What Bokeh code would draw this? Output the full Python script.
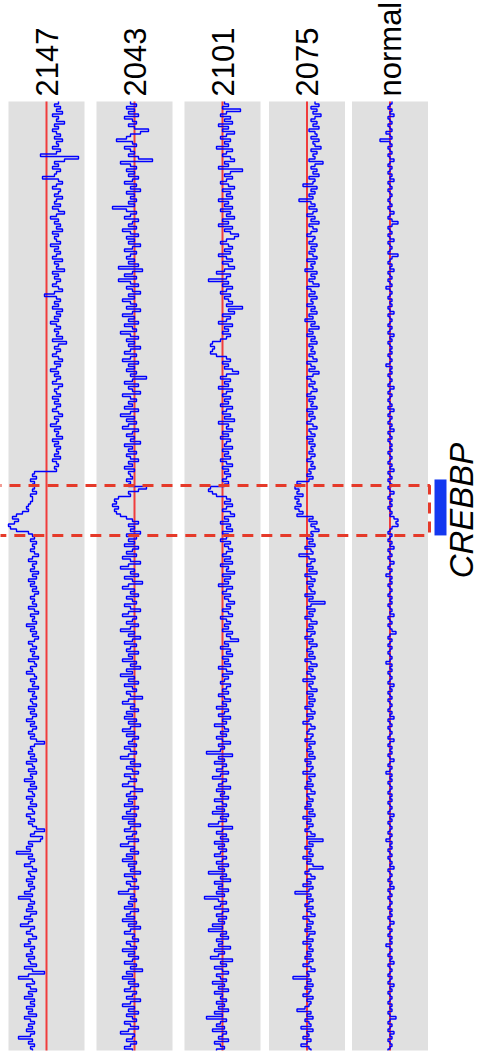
import numpy as np
from bokeh.plotting import figure
from bokeh.models import Range1d
from bokeh.core.properties import value
from bokeh.embed import file_html
from bokeh.resources import INLINE

# ---------------- data ----------------
samples = ["2147", "2043", "2101", "2075", "normal"]

# log2 ratios per probe (top -> bottom)
s2147 = [
    0.6, 0.4, 0.7, 0.5, 0.8, 0.3, 0.6, 0.5, 0.9, 0.4, 0.6, 0.3, 0.5, 0.7, 0.4, 0.8, 0.5, 0.6, 0.3, 0.7,
    0.5, -0.3, 1.6, 0.9, 0.4, 0.6, 0.3, 0.7, 0.5, 0.4, -0.2, 0.6, 0.8, 0.5, 0.3, 0.7, 0.6, 0.4, 0.8, 0.5,
    0.4, 0.7, 0.3, 0.6, 0.9, 0.5, 0.2, 0.6, 0.4, 0.7, 0.5, 0.8, 0.3, 0.6, 0.4, 0.5, 0.7, 0.2, 0.6, 0.4,
    0.7, 0.5, 0.3, 0.8, 0.4, 0.6, 0.5, 0.9, 0.3, 0.6, 0.4, 0.7, 0.5, 0.3, 0.6, 0.8, 0.4, -0.1, 0.5, 0.7,
    0.4, 0.6, 0.3, 0.8, 0.5, 0.7, 0.4, 0.6, 0.2, 0.5, 0.7, 0.4, 0.6, 0.5, 0.8, 0.3, 1.0, 0.6, 0.4, 0.7,
    0.5, 0.3, 0.6, 0.8, 0.4, 0.7, 0.5, 0.2, 0.6, 0.4, 0.7, 0.5, 0.3, 0.8, 0.6, 0.4, 0.5, 0.7, 0.3, 0.6,
    0.4, 0.7, 0.5, 0.3, 0.6, 0.8, 0.4, 0.6, 0.5, 0.2, 0.7, 0.4, 0.6, 0.5, 0.8, 0.3, 0.6, 0.4, 0.7, 0.5,
    0.6, 0.4, 0.7, 0.3, 0.5, 0.6, 0.4, 0.5, -0.6, -0.7, -0.5, -0.8, -0.6, -0.7, -0.6, -0.7, -0.5, -0.8, -0.7, -0.7,
    -0.8, -0.9, -1.0, -0.9, -1.2, -1.5, -1.7, -1.4, -1.6, -1.9, -1.8, -1.5, -0.9, -0.7, -0.6, -0.8, -0.5, -0.7, -0.6, -0.8,
    -0.6, -0.4, -0.7, -0.9, -0.5, -0.7, -0.6, -0.8, -0.4, -0.7, -0.5, -0.9, -0.6, -0.8, -0.5, -0.7, -0.4, -0.6, -0.8, -0.6,
    -0.7, -0.5, -0.9, -0.6, -0.4, -0.8, -0.6, -0.7, -0.5, -1.0, -0.6, -0.8, -0.5, -0.7, -0.4, -0.6, -0.9, -0.7, -0.5, -0.8,
    -0.6, -0.7, -0.4, -0.9, -0.6, -0.5, -0.8, -0.7, -1.0, -0.6, -0.5, -0.8, -0.6, -0.7, -0.4, -0.9, -0.6, -0.7, -0.5, -0.8,
    -0.7, -0.5, -0.9, -0.6, -0.8, -0.5, -0.7, -1.0, -0.6, -0.8, -0.5, -0.7, -0.9, -0.6, -0.8, -0.5, -0.1, -0.6, -0.8, -0.7,
    -0.9, -0.6, -0.8, -0.5, -1.0, -0.7, -0.6, -0.9, -0.5, -0.8, -0.7, -1.1, -0.6, -0.8, -0.5, -0.9, -0.7, -0.6, -1.0, -0.7,
    -0.8, -0.5, -0.9, -0.7, -0.6, -1.0, -0.8, -0.6, -0.9, -0.7, -0.5, -0.1, -0.6, -0.8, -0.2, -0.3, -0.9, -0.7, -1.0, -0.8,
    -1.5, -0.7, -0.9, -0.6, -0.8, -1.1, -0.7, -0.5, -0.9, -0.8, -0.6, -1.0, -0.7, -0.9, -0.6, -0.8, -1.1, -0.7, -1.4, -0.8,
    -0.6, -0.9, -0.7, -1.0, -0.5, -0.8, -1.1, -0.7, -0.9, -1.3, -0.6, -0.8, -1.0, -0.7, -0.5, -0.9, -0.8, -1.1, -0.6, -0.8,
    -0.7, -1.0, -0.6, -0.9, -0.8, -0.5, -1.1, -0.7, -0.1, -0.9, -1.4, -0.7, -0.6, -1.0, -0.8, -0.5, -0.9, -0.7, -1.1, -0.6,
    -0.8, -0.6, -1.0, -0.7, -0.9, -0.5, -1.1, -0.8, -0.6, -0.9, -0.7, -1.0, -0.6, -0.8, -1.4, -0.7, -0.9, -0.6, -0.8, -0.7,
]

s2043 = [
    -0.2, 0.1, -0.4, 0.0, -0.3, 0.2, -0.5, -0.1, 0.1, -0.3, 0.0, 0.7, 0.3, -0.2, -0.4, -0.9, -0.1, 0.1, -0.5, -0.2,
    0.0, -0.3, 0.2, 0.9, -0.7, -0.2, 0.1, -0.4, 0.0, -0.3, 0.2, -0.1, -0.5, 0.1, -0.2, 0.3, -0.4, 0.0, -0.2, 0.1,
    -0.3, 0.0, -1.1, -0.4, 0.1, -0.2, -0.5, 0.2, -0.1, -0.3, 0.1, -0.6, -0.2, 0.2, -0.4, 0.0, -0.3, 0.3, -0.1, -0.5,
    0.1, -0.2, -0.4, 0.0, -0.3, 0.2, -0.8, 0.4, -0.1, -0.5, 0.1, -0.8, -0.2, 0.2, -0.4, -0.1, 0.3, -0.3, 0.0, -0.6,
    -0.2, 0.1, -0.4, 0.3, -0.1, -0.6, 0.0, -0.3, 0.2, -0.5, -0.1, 0.1, -0.7, -0.2, 0.2, -0.4, 0.0, -0.3, 0.3, -0.2,
    -0.5, 0.1, -0.2, -0.6, 0.2, -0.3, 0.0, -0.4, 0.1, -0.2, 0.6, -0.1, -0.5, 0.2, -0.3, -0.1, 0.3, -0.6, -0.2, 0.1,
    -0.3, -0.1, -0.5, 0.2, -0.2, -0.7, 0.0, -0.4, 0.1, -0.3, -0.6, 0.2, -0.1, -0.4, 0.0, -0.2, 0.3, -0.5, -0.1, -0.3,
    0.1, -0.4, -0.2, 0.2, -0.3, -0.1, -0.5, 0.0, -0.3, -0.2, -0.1, -0.4, -0.2, -0.3, 0.6, 0.2, -0.3, -0.2, -0.8, -1.0,
    -0.9, -1.1, -0.8, -1.0, -0.9, -0.7, -0.4, -0.1, 0.2, -0.3, 0.0, -0.2, 0.3, -0.4, 0.1, -0.3, 0.0, -0.5, 0.2, -0.1,
    -0.4, 0.1, -0.6, -0.2, 0.3, -0.3, -0.7, 0.0, -0.2, 0.2, -0.5, -0.1, 0.4, -0.3, -0.6, 0.0, -0.2, 0.2, -0.4, -0.1,
    0.1, -0.5, -0.2, 0.3, -0.3, -0.6, 0.1, -0.1, -0.4, 0.2, -0.2, -0.7, 0.0, -0.3, 0.3, -0.1, -0.5, 0.1, -0.2, -0.4,
    0.2, -0.3, -0.1, -0.6, 0.1, -0.2, 0.3, -0.4, -0.1, -0.7, 0.0, -0.3, 0.2, -0.5, -0.1, 0.1, -0.4, -0.2, 0.4, -0.3,
    -0.6, 0.0, -0.2, 0.2, -0.4, -0.1, -0.5, 0.1, -0.3, 0.3, -0.2, -0.6, 0.0, -0.4, 0.2, -0.1, -0.3, 0.1, -0.5, -0.2,
    0.1, -0.3, -0.7, 0.0, -0.2, 0.3, -0.4, -0.1, 0.2, -0.5, -0.2, 0.1, -0.3, -0.6, 0.0, 0.4, -0.2, -0.4, 0.1, -0.3,
    -0.1, -0.5, 0.2, -0.2, -0.4, 0.1, -0.6, 0.0, -0.3, 0.3, -0.2, -0.5, 0.1, -0.1, -0.4, 0.2, -0.3, -0.7, 0.0, -0.2,
    0.2, -0.4, -0.1, -0.6, 0.1, -0.3, 0.0, -0.2, 0.3, -0.5, -0.1, 0.1, -0.4, -0.2, 0.2, -0.3, -0.8, 0.0, -0.2, 0.1,
    -0.3, -0.1, -0.5, 0.2, -0.2, -0.4, 0.0, -0.6, 0.1, -0.3, 0.3, -0.2, -0.5, 0.0, -0.1, 0.2, -0.4, -0.2, 0.1, -0.6,
    0.0, -0.3, 0.2, -0.1, -0.5, 0.1, -0.2, 0.4, -0.4, -0.1, -0.6, 0.0, -0.3, 0.2, -0.2, -0.5, 0.1, -0.1, -0.4, 0.3,
    -0.2, -0.6, 0.0, -0.3, 0.2, -0.4, -0.1, 0.1, -0.5, -0.2, 0.2, -0.3, -0.7, 0.0, -0.1, -0.4, 0.1, -0.2, -0.5, -0.1,
]

s2101 = [
    0.1, 0.3, 0.0, 0.9, 0.2, -0.1, 0.4, 0.1, 0.5, -0.2, 0.3, 0.0, 0.6, 0.2, -0.1, 0.4, 0.1, 0.3, -0.3, 0.5,
    0.2, 0.0, 0.4, 0.6, 0.1, 0.3, -0.2, 1.0, 0.4, 0.1, 0.5, 0.2, -0.1, 0.3, 0.6, 0.0, 0.4, 0.2, 0.5, -0.2,
    0.3, 0.1, 0.5, -0.1, 0.4, 0.2, 0.6, 0.0, 0.3, -0.2, 0.5, 0.1, 0.4, 0.8, 0.6, 0.2, -0.1, 0.3, 0.5, 0.1,
    0.4, -0.2, 0.2, 0.5, 0.0, 0.3, 0.6, 0.1, -0.3, 0.4, 0.2, -0.7, 0.3, 0.0, 0.5, 0.2, -0.1, 0.4, 0.1, 0.3,
    0.5, 0.2, 1.0, 0.3, 0.6, 0.0, 0.4, 0.2, -0.2, 0.5, 0.1, 0.3, 0.0, 0.4, 0.2, -0.1, -0.5, -0.6, -0.4, -0.5,
    -0.6, -0.3, 0.2, 0.4, 0.0, 0.3, 0.1, 0.5, 0.8, 0.2, -0.1, 0.4, 0.1, 0.3, -0.2, 0.5, 0.2, 0.0, 0.4, 0.1,
    0.3, -0.1, 0.5, 0.2, 0.0, 0.4, 0.1, 0.6, -0.2, 0.3, 0.2, 0.5, 0.0, 0.3, -0.1, 0.4, 0.2, 0.1, 0.5, 0.0,
    0.3, 0.1, 0.4, -0.1, 0.2, 0.5, 0.0, 0.3, 0.1, 0.4, 0.2, 0.0, 0.3, 0.1, -0.6, -0.7, -0.5, -0.3, 0.2, 0.4,
    0.1, 0.5, 0.2, 0.0, 0.4, 0.6, 0.1, 0.3, -0.1, 0.4, 0.2, 0.5, 0.0, 0.3, 0.2, -0.1, 0.4, 0.1, 0.3, 0.5,
    0.2, 0.0, 0.4, 0.1, 0.5, -0.1, 0.3, 0.2, 0.6, 0.0, 0.4, 0.1, 0.3, -0.2, 0.5, 0.2, 0.0, 0.4, 0.1, 0.3,
    0.6, 0.2, 0.4, 0.0, 0.3, 0.5, -0.1, 0.2, 0.4, 0.1, 0.3, 0.0, 0.5, 0.2, 0.4, 0.8, 0.1, 0.3, -0.1, 0.4,
    0.2, 0.5, 0.0, 0.3, 0.1, 0.4, -0.2, 0.2, 0.5, 0.0, 0.3, 0.1, -0.1, 0.4, 0.2, 0.0, 0.3, -0.2, 0.1, 0.4,
    0.0, 0.2, -0.3, 0.3, 0.1, -0.2, 0.4, 0.0, 0.2, -0.4, 0.1, 0.3, -0.1, 0.2, -0.3, 0.0, 0.4, -0.2, 0.1, -0.1,
    -0.8, 0.5, -0.2, 0.1, -0.4, 0.2, 0.0, -0.3, 0.3, -0.1, -0.5, 0.2, 0.0, -0.2, 0.4, -0.3, 0.1, -0.1, 0.3, -0.4,
    0.0, 0.2, -0.3, 0.1, -0.5, 0.3, -0.1, 0.2, -0.2, -0.7, 0.5, 0.0, -0.3, 0.2, -0.1, 0.3, -0.4, 0.1, -0.2, 0.2,
    -0.1, -0.4, 0.2, 0.0, -0.3, 0.3, -0.2, 0.1, -0.7, 0.2, -0.1, 0.4, -0.4, 0.0, -0.2, 0.3, -0.3, 0.1, -0.9, -0.2,
    0.2, -0.1, -0.4, 0.3, 0.0, -0.3, 0.2, -0.2, 0.1, -0.5, 0.0, -0.7, 0.2, -0.1, 0.3, -0.3, 0.0, -0.2, 0.4, -0.4,
    0.1, -0.2, -0.6, 0.5, -0.1, 0.2, -0.4, 0.0, 0.3, -0.3, -0.1, 0.2, -0.5, 0.1, -0.2, 0.3, -0.4, 0.0, -0.1, 0.2,
    -0.3, 0.1, -0.2, 0.3, -0.4, 0.0, -0.8, 0.2, -0.1, -0.3, 0.1, -0.5, 0.2, 0.0, -0.2, 0.3, -0.4, -0.1, 0.1, -0.3,
]

s2075 = [
    0.4, 0.6, 0.2, 0.5, 0.3, 0.7, 0.4, 0.2, 0.5, 0.3, 0.6, 0.1, 0.4, 0.5, 0.2, 0.6, 0.3, 0.4, 0.7, 0.2,
    0.5, 0.3, 0.4, 0.1, 0.8, 0.4, 0.2, 0.5, 0.3, 0.6, 0.1, 0.4, 0.3, -0.2, 0.5, 0.2, 0.4, 0.1, 0.3, -0.4,
    0.2, 0.4, 0.1, 0.5, 0.3, 0.0, 0.4, 0.2, 0.6, 0.1, 0.3, 0.5, 0.2, 0.0, 0.4, 0.3, 0.1, 0.5, 0.2, 0.4,
    0.1, 0.3, 0.5, 0.0, 0.4, 0.2, 0.3, -0.1, 0.5, 0.2, 0.4, 0.1, 0.3, 0.6, 0.0, 0.2, 0.4, 0.1, 0.5, 0.2,
    0.3, 0.0, 0.4, 0.2, 0.5, 0.1, 0.3, -0.1, 0.4, 0.2, 0.6, 0.1, 0.3, 0.0, 0.4, 0.2, 0.5, 0.1, 0.3, 0.2,
    0.4, 0.1, 0.3, 0.5, 0.0, 0.2, 0.4, 0.1, 0.6, 0.3, 0.0, 0.2, 0.4, 0.1, 0.3, 0.5, 0.2, 0.0, 0.4, 0.1,
    0.3, 0.2, 0.5, 0.0, 0.3, 0.1, 0.4, 0.2, 0.0, 0.3, 0.5, 0.1, 0.2, 0.4, 0.0, 0.3, 0.1, 0.4, 0.2, 0.3,
    0.1, 0.4, 0.2, 0.0, 0.3, 0.2, 0.4, 0.1, 0.2, 0.0, 0.3, 0.1, -0.5, -0.3, -0.6, -0.4, -0.5, -0.2, -0.6, -0.4,
    -0.5, -0.3, -0.6, -0.4, -0.2, -0.5, 0.3, 0.1, 0.5, 0.2, 0.4, 0.6, 0.2, 0.3, 0.0, 0.3, 0.1, 0.4, -0.1, 0.2,
    0.3, -0.4, 0.1, 0.4, 0.2, 0.0, 0.3, 0.1, 0.5, -0.1, 0.2, 0.4, 0.0, 0.3, 0.1, 0.2, 0.4, -0.1, 0.3, 0.1,
    0.9, 0.2, 0.0, 0.4, 0.1, 0.3, -0.1, 0.2, 0.5, 0.1, 0.3, 0.0, 0.4, 0.2, -0.1, 0.3, 0.1, 0.5, 0.2, 0.0,
    0.3, 0.1, 0.4, -0.1, 0.2, 0.5, 0.1, 0.3, 0.0, 0.2, 0.4, -0.2, 0.3, 0.1, 0.2, 0.5, 0.0, 0.3, 0.1, 0.4,
    0.1, 0.3, -0.1, 0.2, 0.4, 0.0, 0.3, 0.1, -0.2, 0.2, 0.4, 0.1, 0.0, 0.3, 0.2, -0.1, 0.4, 0.1, 0.2, 0.0,
    0.3, 0.1, 0.4, -0.1, 0.2, 0.0, 0.3, 0.2, -0.2, 0.4, 0.1, 0.2, 0.0, 0.3, -0.1, 0.2, 0.4, 0.0, 0.1, 0.3,
    0.0, 0.2, -0.1, 0.3, 0.1, 0.4, -0.2, 0.2, 0.0, 0.3, 0.1, -0.1, 0.2, 0.4, 0.0, 0.8, 0.1, 0.3, -0.1, 0.2,
    0.1, 0.3, -0.2, 0.2, 0.0, 0.3, 0.8, 0.1, -0.1, 0.2, 0.4, 0.0, 0.2, -0.2, 0.3, 0.1, -0.6, 0.2, 0.0, 0.3,
    0.1, -0.1, 0.3, 0.0, 0.2, 0.4, -0.2, 0.1, 0.3, 0.0, 0.2, -0.1, 0.4, 0.1, 0.0, 0.3, -0.2, 0.2, 0.1, 0.3,
    0.0, 0.2, -0.1, 0.3, 0.1, -0.2, 0.2, 0.4, 0.0, 0.1, -0.7, 0.2, 0.0, 0.3, -0.1, 0.2, 0.1, -0.2, 0.3, 0.0,
    0.2, 0.1, -0.1, -0.5, 0.2, 0.0, 0.3, -0.1, 0.1, 0.2, -0.3, 0.3, 0.0, 0.1, -0.2, 0.2, 0.0, -0.3, 0.1, 0.2,
]

s_normal = [
    0.1, 0.0, -0.1, 0.1, 0.0, 0.2, -0.1, 0.0, 0.1, -0.1, 0.0, 0.1, -0.2, 0.0, 0.1, -0.5, 0.0, 0.1, -0.1, 0.0,
    0.1, -0.1, 0.0, 0.2, 0.0, -0.1, 0.1, 0.0, -0.1, 0.1, 0.0, 0.2, -0.1, 0.0, 0.1, -0.1, 0.0, 0.1, 0.0, -0.1,
    0.0, 0.1, -0.1, 0.0, 0.2, 0.0, -0.1, 0.1, 0.4, 0.1, -0.1, 0.0, 0.1, -0.1, 0.0, 0.2, -0.1, 0.0, 0.1, 0.0,
    -0.1, 0.4, 0.1, 0.0, -0.1, 0.1, 0.0, 0.2, -0.1, 0.0, 0.1, -0.1, 0.0, 0.1, -0.2, 0.0, 0.1, 0.0, -0.1, 0.1,
    0.0, 0.1, -0.1, 0.0, 0.2, -0.1, 0.0, 0.1, 0.0, -0.1, 0.1, 0.0, -0.1, 0.2, 0.0, 0.1, -0.1, 0.0, 0.1, 0.0,
    0.1, -0.1, 0.0, 0.1, 0.0, -0.2, 0.1, 0.0, 0.1, -0.1, 0.0, 0.1, 0.0, -0.1, 0.2, 0.0, -0.1, 0.1, 0.0, -0.1,
    0.0, 0.1, -0.1, 0.2, 0.0, -0.1, 0.1, 0.0, -0.1, 0.1, 0.0, 0.2, -0.1, 0.0, 0.1, -0.1, 0.0, 0.1, 0.0, 0.1,
    -0.1, 0.0, 0.1, 0.0, -0.1, 0.1, 0.0, 0.2, -0.1, 0.0, 0.1, -0.1, 0.0, 0.1, -0.1, 0.0, 0.2, 0.0, -0.1, 0.1,
    0.0, 0.1, -0.1, 0.0, 0.1, 0.0, 0.2, 0.4, 0.3, 0.4, 0.1, 0.0, -0.1, 0.1, 0.0, -0.1, 0.1, 0.0, 0.2, -0.1,
    0.0, 0.1, -0.1, 0.0, 0.2, 0.0, -0.1, 0.1, 0.0, -0.2, 0.1, 0.0, 0.1, -0.1, 0.0, 0.1, 0.0, -0.1, 0.1, 0.0,
    0.1, -0.1, 0.0, 0.1, 0.0, 0.2, -0.1, 0.0, 0.1, -0.1, 0.0, 0.1, 0.3, 0.0, -0.1, 0.1, 0.0, -0.1, 0.1, 0.0,
    -0.1, 0.0, 0.1, 0.0, -0.2, 0.1, 0.0, 0.1, -0.1, 0.0, 0.1, 0.0, -0.1, 0.2, 0.0, 0.1, -0.1, 0.0, 0.1, -0.1,
    0.0, 0.1, 0.0, -0.1, 0.1, 0.0, 0.2, -0.1, 0.0, 0.1, -0.1, 0.0, 0.1, 0.0, -0.1, 0.2, 0.0, -0.1, 0.1, 0.0,
    0.1, -0.1, 0.0, 0.2, 0.0, -0.1, 0.1, 0.0, -0.2, 0.1, 0.0, 0.1, -0.1, 0.0, 0.1, 0.0, -0.1, 0.1, 0.0, 0.1,
    -0.1, 0.0, 0.1, 0.0, -0.1, 0.2, 0.0, 0.1, -0.1, 0.0, 0.1, 0.0, -0.1, 0.1, 0.0, -0.2, 0.1, 0.0, 0.1, -0.1,
    0.0, 0.1, -0.1, 0.0, 0.1, 0.0, 0.2, -0.1, 0.0, 0.1, 0.0, -0.1, 0.1, 0.0, 0.2, -0.1, 0.0, 0.1, -0.1, 0.0,
    0.1, 0.0, -0.1, 0.1, 0.0, 0.1, -0.1, 0.0, 0.2, 0.0, -0.1, 0.1, 0.0, -0.1, 0.1, 0.0, 0.1, -0.2, 0.0, 0.1,
    0.0, -0.1, 0.1, 0.0, 0.2, -0.1, 0.0, 0.1, 0.0, -0.1, 0.1, 0.0, -0.1, 0.2, 0.0, 0.1, -0.1, 0.0, 0.1, 0.0,
    -0.1, 0.1, 0.0, 0.1, -0.1, 0.0, 0.3, 0.0, -0.1, 0.1, 0.0, -0.1, 0.2, 0.0, 0.1, -0.1, 0.0, 0.1, 0.0, -0.1,
]

series = [s2147, s2043, s2101, s2075, s_normal]

panel_top_mb = 2.730        # top of the shown region (Mb)
probe_start_mb = 2.7335     # first probe position (Mb)
probe_step_mb = 0.006925    # probe spacing (Mb)

gene_name = "CREBBP"
gene_start_mb, gene_end_mb = 3.777, 3.932
region_start_mb, region_end_mb = 3.794, 3.932

# ---------------- layout / style ----------------
W, H = 479, 1052
MB_PER_PX = 0.00277
PANEL_TOP_PX = 101
PANEL_BOTTOM_PX = 1050
PX_PER_LOG2 = 20
centers_px = [46, 134, 222, 306.5, 389.5]
HALF_W = 38
LABEL_GAP_PX = 5
REGION_LEFT_PX = -10
REGION_RIGHT_PX = 429
GENE_LEFT_PX, GENE_RIGHT_PX = 434, 446
GENE_LABEL_X_PX = 461
GENE_LABEL_Y_PX = 510

y_top = panel_top_mb - PANEL_TOP_PX * MB_PER_PX
y_bottom = y_top + H * MB_PER_PX
panel_bottom_mb = panel_top_mb + (PANEL_BOTTOM_PX - PANEL_TOP_PX) * MB_PER_PX

p = figure(width=W, height=H, output_backend="svg", toolbar_location=None,
           x_range=Range1d(0, W), y_range=Range1d(y_bottom, y_top),
           min_border=0, x_axis_location=None, y_axis_location=None,
           outline_line_color=None, background_fill_color="white",
           border_fill_color="white")
p.grid.visible = False

n = len(s2147)
pos = probe_start_mb + probe_step_mb * np.arange(n)
# each probe is held over its own interval (step trace)
ys = np.column_stack([pos - probe_step_mb / 2, pos + probe_step_mb / 2]).ravel()
ys = np.clip(ys, panel_top_mb, panel_bottom_mb)

cx = np.array(centers_px, dtype=float)
p.quad(left=cx - HALF_W, right=cx + HALF_W, top=[panel_top_mb] * 5,
       bottom=[panel_bottom_mb] * 5, fill_color="#E0E0E0", line_color=None)
p.segment(x0=cx, x1=cx, y0=[panel_top_mb] * 5, y1=[panel_bottom_mb] * 5,
          line_color="#F03C3C", line_width=2)

for c, vals in zip(centers_px, series):
    xs = c + np.repeat(np.array(vals), 2) * PX_PER_LOG2
    p.line(xs, ys, line_color="#0000FF", line_width=1.4)

# sample labels
p.text(x=cx, y=[panel_top_mb - LABEL_GAP_PX * MB_PER_PX] * 5, text=samples,
       angle=np.pi / 2, text_font=value("Liberation Sans"), text_font_size="31px",
       text_align="left", text_baseline="middle", text_color="black")

# highlighted region
p.quad(left=[REGION_LEFT_PX], right=[REGION_RIGHT_PX], top=[region_start_mb],
       bottom=[region_end_mb], fill_alpha=0, line_color="#E53A2A",
       line_width=3, line_dash="11 8")

# gene
p.quad(left=[GENE_LEFT_PX], right=[GENE_RIGHT_PX], top=[gene_start_mb],
       bottom=[gene_end_mb], fill_color="#1438F0", line_color=None)
p.text(x=[GENE_LABEL_X_PX], y=[y_top + GENE_LABEL_Y_PX * MB_PER_PX],
       text=[gene_name], angle=np.pi / 2, text_font=value("Liberation Sans"),
       text_font_size="33px", text_font_style="italic", text_align="center",
       text_baseline="middle", text_color="black")

open("out.html", "w").write(file_html(p, INLINE))
